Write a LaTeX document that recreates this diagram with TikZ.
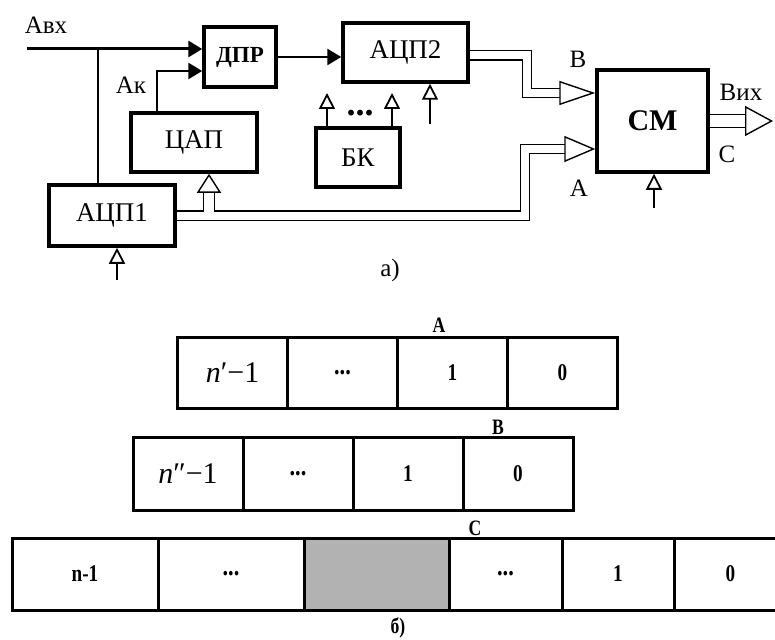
\documentclass[tikz,border=0pt]{standalone}
\usepackage{fontspec}
\setmainfont{Liberation Serif}
\newfontfamily\narrowserif[FakeStretch=0.8]{Liberation Serif}
\usetikzlibrary{arrows.meta,positioning}
\newcommand{\celldots}{{\fontsize{28}{30}\selectfont...}}

\begin{document}
\begin{tikzpicture}[x=1pt,y=-1pt,
  box/.style={draw,line width=3.5pt,inner sep=0pt,font=\fontsize{27}{29}\selectfont},
  lbl/.style={font=\fontsize{25}{27}\selectfont},
  sig/.style={line width=2.6pt,-{Triangle[length=14pt,width=16pt]}},
  ctl/.style={line width=2pt,-{Triangle[open,length=16pt,width=16pt,line width=1.8pt]}},
  bus/.style={double,double distance=8pt,line width=1.4pt},
  cell/.style={draw,line width=3pt,inner sep=0pt,font=\narrowserif\bfseries\fontsize{24}{26}\selectfont},
  tag/.style={font=\narrowserif\bfseries\fontsize{22}{24}\selectfont}]
  \useasboundingbox (0,0) rectangle (775,639);
  % a) block diagram
  \node[box,minimum width=72pt,minimum height=60pt,font=\bfseries\fontsize{23}{25}\selectfont] (dpr) at (240,57) {ДПР};
  \node[box,minimum width=125pt,minimum height=59pt] (adc2) at (405.5,52.5) {АЦП2};
  \node[box,minimum width=126pt,minimum height=59pt] (dac) at (194,142.5) {ЦАП};
  \node[box,minimum width=84pt,minimum height=59pt] (bk) at (358,157.5) {БК};
  \node[box,minimum width=126pt,minimum height=61pt] (adc1) at (112,215.5) {АЦП1};
  \node[box,minimum width=111pt,minimum height=102pt,font=\bfseries\fontsize{30}{32}\selectfont] (sm) at (652.5,121) {СМ};

  \node[lbl] (avx) at (46,25) {Авх};
  \node[lbl] (ak) at (131,85) {Ак};
  \node[lbl] (lb) at (578,59) {В};
  \node[lbl] (la) at (579,188) {А};
  \node[lbl] (lc) at (727,154) {С};
  \node[lbl] (vyx) at (741,92) {Вих};
  \node[lbl] (capa) at (390,270) {а)};
  \node[font=\bfseries\fontsize{36}{36}\selectfont] (dots) at (360,113) {...};

  \coordinate (in1) at (27,49);
  \coordinate (br) at (98,49);
  \coordinate (u1) at (117,280);
  \coordinate (u2) at (654,208);
  \coordinate (u3) at (430,124);
  \coordinate (u4) at (327,93);
  \coordinate (u5) at (392,93);
  \coordinate (jd) at (209,211.5);
  \coordinate (ja) at (525,149);
  \coordinate (jb) at (527,93);
  \coordinate (out) at (773,121);

  \draw[sig,line width=3pt] (in1) -- ([yshift=8pt]dpr.west);
  \draw[line width=2.6pt] (br) -- (br|-adc1.north);
  \draw[sig] ([xshift=-37pt]dac.north) |- ([yshift=-14pt]dpr.west);
  \draw[sig] (dpr.east) -- (dpr.east-|adc2.west);

  \draw[ctl] (u1) -- (u1|-adc1.south);
  \draw[ctl] (u2) -- (u2|-sm.south);
  \draw[ctl] (u3) -- (u3|-adc2.south);
  \draw[ctl] (u4|-bk.north) -- (u4);
  \draw[ctl] (u5|-bk.north) -- (u5);

  % buses
  \draw[bus,-{Triangle[open,length=31pt,width=26pt]}] (adc1.east) -| (ja) -- ([yshift=-28pt]sm.west);
  \draw[bus,double distance=10pt,-{Triangle[open,length=19pt,width=24pt]}] (jd) -- (jd|-dac.south);
  \draw[bus,-{Triangle[open,length=36pt,width=24pt]}] ([yshift=-3pt]adc2.east) -| (jb) -- ([yshift=28pt]sm.west);
  \draw[bus,double distance=12pt,-{Triangle[open,length=28pt,width=30pt]}] (sm.east) -- (out);

  % b) bit grids
  \node[tag] (ta) at (439,325) {A};
  \foreach \txt [count=\i] in {{\rmfamily\mdseries\fontsize{30}{32}\selectfont\textit{n}′−1},\celldots,1,0}
    \node[cell,minimum width=110pt,minimum height=71pt] (a\i) at (122.5+110*\i,372.5) {\txt};

  \node[tag] (tb) at (498,427) {B};
  \foreach \txt [count=\i] in {{\rmfamily\mdseries\fontsize{30}{32}\selectfont\textit{n}″−1},\celldots,1,0}
    \node[cell,minimum width=110pt,minimum height=73pt] (b\i) at (78+110*\i,473.5) {\txt};

  \node[tag] (tc) at (475,528) {C};
  \foreach \cx/\w/\txt/\fl [count=\i] in {85/146/n-1/white,231/146/\celldots/white,376.5/145/{}/black!30,505.5/113/\celldots/white,618/112/1/white,730.5/113/0/white}
    \node[cell,fill=\fl,minimum width=\w pt,minimum height=72pt] (c\i) at (\cx,574) {\txt};
  \node[tag] (tbb) at (398,628) {б)};
\end{tikzpicture}
\end{document}
